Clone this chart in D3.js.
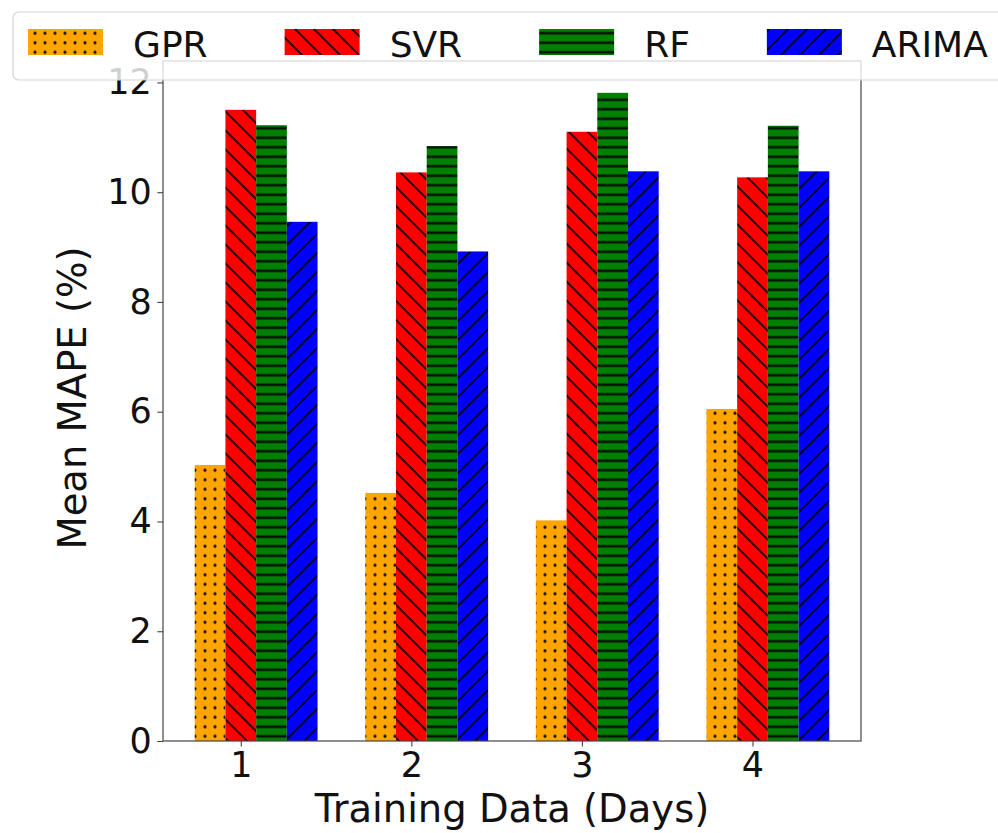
<!DOCTYPE html>
<html>
<head>
<meta charset="utf-8">
<script src="https://cdn.jsdelivr.net/npm/d3@7/dist/d3.min.js"></script>
<style>
  body { margin: 0; background: #fff; }
  text { font-family: "DejaVu Sans", sans-serif; fill: #111; }
</style>
</head>
<body>
<svg id="chart" width="998" height="833"></svg>
<script>
// Mean MAPE (%) per model for each amount of training data (days)
const days = [1, 2, 3, 4];
const models = ["GPR", "SVR", "RF", "ARIMA"];
const gpr = [5.03, 4.52, 4.02, 6.05];
const svr = [11.50, 10.36, 11.10, 10.27];
const rf = [11.22, 10.84, 11.81, 11.21];
const arima = [9.46, 8.92, 10.38, 10.38];
const yTicks = [0, 2, 4, 6, 8, 10, 12];
const colors = ["#ffa500", "#ff0000", "#008000", "#0000ff"];
const hatchKinds = ["dots", "back", "horiz", "fwd"];

const series = [gpr, svr, rf, arima];
const barWidth = 0.18;

const svg = d3.select("#chart");
const W = 998, H = 833;
const margin = { top: 61, right: 137, bottom: 92, left: 163 };
const innerLeft = margin.left, innerRight = W - margin.right;
const innerTop = margin.top, innerBottom = H - margin.bottom;

const x = d3.scaleLinear().domain([0.544, 4.636]).range([innerLeft, innerRight]);
const y = d3.scaleLinear().domain([0, 12.39]).range([innerBottom, innerTop]);

// ---- hatch patterns ----
const defs = svg.append("defs");
const hatchStroke = 2;
function makePattern(id, color, kind) {
  const p = defs.append("pattern").attr("id", id).attr("patternUnits", "userSpaceOnUse");
  if (kind === "dots") {
    const sx = 10, sy = 9.5;
    p.attr("width", sx).attr("height", sy);
    p.append("rect").attr("width", sx).attr("height", sy).attr("fill", color);
    p.append("circle").attr("cx", sx / 2).attr("cy", sy / 2).attr("r", 1.6).attr("fill", "#000")
      .attr("opacity", 0.9);
  } else if (kind === "horiz") {
    const s = 9.5;
    p.attr("width", s).attr("height", s);
    p.append("rect").attr("width", s).attr("height", s).attr("fill", color);
    p.append("rect").attr("x", 0).attr("y", s / 2 - 1.3).attr("width", s).attr("height", 2.6)
      .attr("fill", "#000").attr("opacity", 0.85);
  } else {
    const s = 19;
    p.attr("width", s).attr("height", s);
    p.append("rect").attr("width", s).attr("height", s).attr("fill", color);
    const d = kind === "back"
      ? `M${-s},${-s} L${2 * s},${2 * s} M${-s},0 L${s},${2 * s} M0,${-s} L${2 * s},${s}`
      : `M${-s},${2 * s} L${2 * s},${-s} M${-s},${s} L${s},${-s} M0,${2 * s} L${2 * s},0`;
    p.append("path").attr("d", d).attr("stroke", "#000").attr("stroke-width", hatchStroke)
      .attr("opacity", 0.8);
  }
}
models.forEach((m, i) => makePattern("hatch-" + m, colors[i], hatchKinds[i]));

// ---- bars ----
const barsG = svg.append("g");
series.forEach((vals, i) => {
  const offset = (i - 1) * barWidth;
  barsG.append("g").selectAll("rect")
    .data(days.map((d, k) => ({ day: d, v: vals[k] })))
    .join("rect")
    .attr("x", d => x(d.day + offset - barWidth / 2))
    .attr("width", d => x(d.day + offset + barWidth / 2) - x(d.day + offset - barWidth / 2))
    .attr("y", d => y(d.v))
    .attr("height", d => y(0) - y(d.v))
    .attr("fill", `url(#hatch-${models[i]})`);
});

// ---- axes ----
const tickLen = 5.6, tickPad = 5.6;
const yAxis = svg.append("g").attr("transform", `translate(${innerLeft},0)`)
  .call(d3.axisLeft(y).tickValues(yTicks).tickFormat(d3.format("d"))
    .tickSize(tickLen).tickPadding(tickPad).tickSizeOuter(0));
const xAxis = svg.append("g").attr("transform", `translate(0,${innerBottom})`)
  .call(d3.axisBottom(x).tickValues(days).tickFormat(d3.format("d"))
    .tickSize(tickLen).tickPadding(tickPad).tickSizeOuter(0));
[yAxis, xAxis].forEach(g => {
  g.select(".domain").remove();
  g.selectAll(".tick line").attr("stroke", "#444").attr("stroke-width", 1.1);
  g.selectAll(".tick text").attr("font-size", 35).attr("fill", "#111")
    .attr("font-family", '"DejaVu Sans", sans-serif');
});

// frame (all four spines)
svg.append("rect")
  .attr("x", innerLeft).attr("y", innerTop)
  .attr("width", innerRight - innerLeft).attr("height", innerBottom - innerTop)
  .attr("fill", "none").attr("stroke", "#444").attr("stroke-width", 1.2);

// axis titles
svg.append("text")
  .attr("x", (innerLeft + innerRight) / 2).attr("y", 822)
  .attr("text-anchor", "middle").attr("font-size", 38.5)
  .text("Training Data (Days)");
svg.append("text")
  .attr("transform", `translate(86,${(innerTop + innerBottom) / 2 - 3}) rotate(-90)`)
  .attr("text-anchor", "middle").attr("font-size", 38.5)
  .text("Mean MAPE (%)");

// ---- legend ----
const legend = svg.append("g");
legend.append("rect")
  .attr("x", 13).attr("y", 12).attr("width", 1010).attr("height", 68).attr("rx", 6)
  .attr("fill", "#fff").attr("fill-opacity", 0.8)
  .attr("stroke", "#d4d4d4").attr("stroke-width", 1.2);
let lx = 28;
models.forEach((m, i) => {
  legend.append("rect")
    .attr("x", lx).attr("y", 29).attr("width", 75).attr("height", 26)
    .attr("fill", `url(#hatch-${m})`);
  const t = legend.append("text")
    .attr("x", lx + 105).attr("y", 57).attr("font-size", 36).text(m);
  lx = lx + 105 + t.node().getComputedTextLength() + 77;
});
</script>
</body>
</html>
